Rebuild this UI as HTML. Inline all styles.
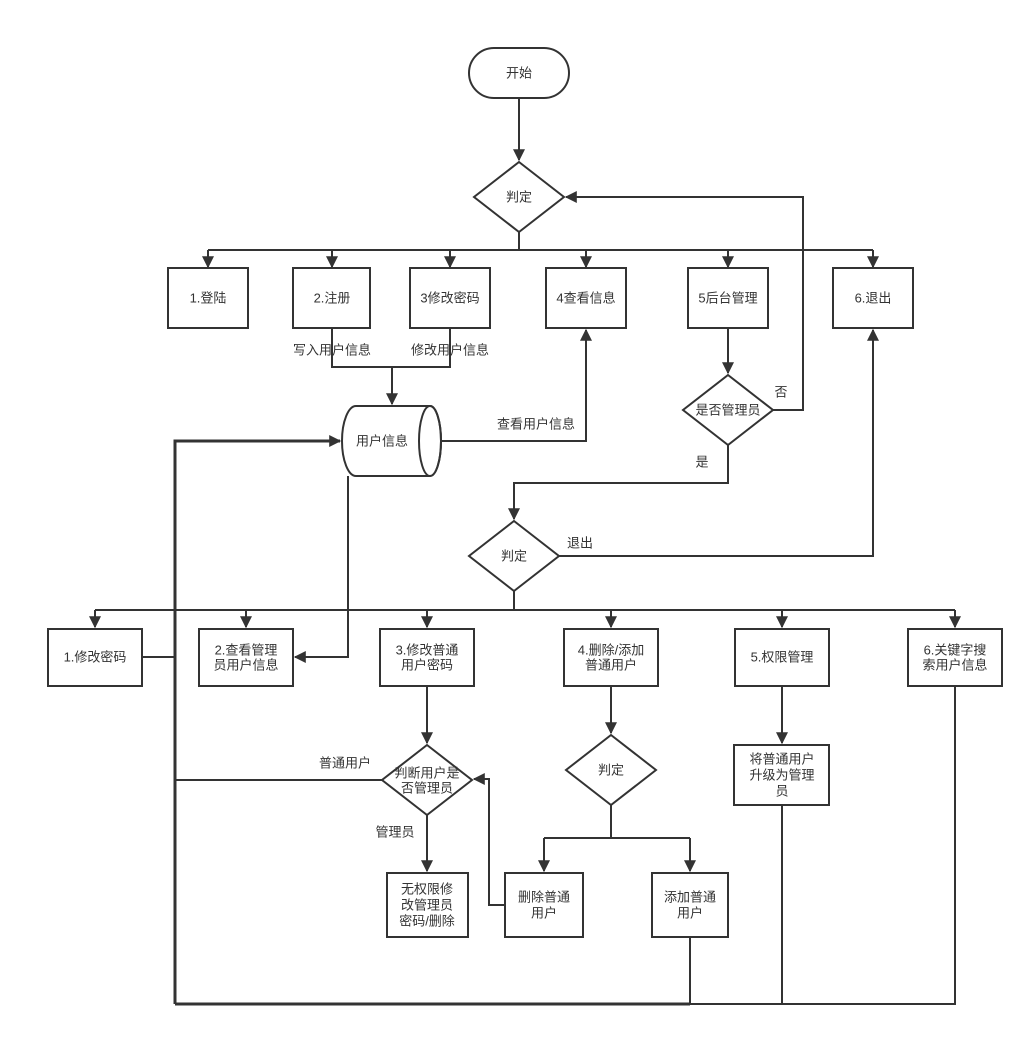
<!DOCTYPE html>
<html><head><meta charset="utf-8"><style>
html,body{margin:0;padding:0;background:#fff;}
svg{display:block}
text{font-family:"Liberation Sans","Noto Sans CJK SC",sans-serif;font-size:13px;fill:#333;text-anchor:middle;dominant-baseline:central}
</style></head><body>
<svg width="1034" height="1037" viewBox="0 0 1034 1037" xmlns="http://www.w3.org/2000/svg">
<defs><marker id="a" viewBox="0 0 10 10" refX="9" refY="5" markerWidth="6" markerHeight="6" markerUnits="userSpaceOnUse" orient="auto"><path d="M0,0 L10,5 L0,10 z" fill="#333"/></marker>
<marker id="b" viewBox="0 0 10 10" refX="9" refY="5" markerWidth="14" markerHeight="12" orient="auto" markerUnits="userSpaceOnUse"><path d="M0,0 L10,5 L0,10 z" fill="#333"/></marker></defs>
<g fill="none" stroke="#333" stroke-width="2">
<rect x="469" y="48" width="100" height="50" rx="25"/>
<polygon points="519,162 564,197 519,232 474,197" fill="#fff"/>
<rect x="168" y="268" width="80" height="60"/>
<rect x="293" y="268" width="77" height="60"/>
<rect x="410" y="268" width="80" height="60"/>
<rect x="546" y="268" width="80" height="60"/>
<rect x="688" y="268" width="80" height="60"/>
<rect x="833" y="268" width="80" height="60"/>
<path d="M356,406 L430,406 A11,35 0 0 1 430,476 L356,476 A14,35 0 0 1 356,406 Z"/>
<ellipse cx="430" cy="441" rx="11" ry="35"/>
<polygon points="728,375 773,410 728,445 683,410"/>
<polygon points="514,521 559,556 514,591 469,556"/>
<rect x="48" y="629" width="94" height="57"/>
<rect x="199" y="629" width="94" height="57"/>
<rect x="380" y="629" width="94" height="57"/>
<rect x="564" y="629" width="94" height="57"/>
<rect x="735" y="629" width="94" height="57"/>
<rect x="908" y="629" width="94" height="57"/>
<polygon points="427,745 472,780 427,815 382,780"/>
<polygon points="611,735 656,770 611,805 566,770"/>
<rect x="387" y="873" width="81" height="64"/>
<rect x="505" y="873" width="78" height="64"/>
<rect x="652" y="873" width="76" height="64"/>
<rect x="734" y="745" width="95" height="60"/>
</g>
<g fill="none" stroke="#333" stroke-width="2">
<path d="M519,98 V160" marker-end="url(#b)"/>
<path d="M519,232 V250"/>
<path d="M208,250 H873"/>
<path d="M208,250 V267" marker-end="url(#b)"/>
<path d="M332,250 V267" marker-end="url(#b)"/>
<path d="M450,250 V267" marker-end="url(#b)"/>
<path d="M586,250 V267" marker-end="url(#b)"/>
<path d="M728,250 V267" marker-end="url(#b)"/>
<path d="M873,250 V267" marker-end="url(#b)"/>
<path d="M332,328 V367 H450 V328"/>
<path d="M392,367 V404" marker-end="url(#b)"/>
<path d="M442,441 H586 V330" marker-end="url(#b)"/>
<path d="M728,328 V373" marker-end="url(#b)"/>
<path d="M773,410 H803 V197 H566" marker-end="url(#b)"/>
<path d="M728,445 V483 H514 V519" marker-end="url(#b)"/>
<path d="M559,556 H873 V330" marker-end="url(#b)"/>
<path d="M514,591 V610"/>
<path d="M95,610 H955"/>
<path d="M95,610 V627" marker-end="url(#b)"/>
<path d="M246,610 V627" marker-end="url(#b)"/>
<path d="M427,610 V627" marker-end="url(#b)"/>
<path d="M611,610 V627" marker-end="url(#b)"/>
<path d="M782,610 V627" marker-end="url(#b)"/>
<path d="M955,610 V627" marker-end="url(#b)"/>
<path d="M348,476 V657 H295" marker-end="url(#b)"/>
<path d="M142,657 H175"/>
<path d="M175,1004 V441 H340" marker-end="url(#b)" stroke-width="3"/>
<path d="M175,1004 H955 V686" stroke-width="2"/>
<path d="M175,1004 H690" stroke-width="3"/>
<path d="M690,937 V1004"/>
<path d="M782,805 V1004"/>
<path d="M427,686 V743" marker-end="url(#b)"/>
<path d="M382,780 H175"/>
<path d="M427,815 V871" marker-end="url(#b)"/>
<path d="M611,686 V733" marker-end="url(#b)"/>
<path d="M611,805 V838 M544,838 H690"/>
<path d="M544,838 V871" marker-end="url(#b)"/>
<path d="M690,838 V871" marker-end="url(#b)"/>
<path d="M505,905 H489 V779 H474" marker-end="url(#b)"/>
<path d="M782,686 V743" marker-end="url(#b)"/>
</g>
<text x="519" y="73">开始</text>
<text x="519" y="197">判定</text>
<text x="208" y="298">1.登陆</text>
<text x="332" y="298">2.注册</text>
<text x="450" y="298">3修改密码</text>
<text x="586" y="298">4查看信息</text>
<text x="728" y="298">5后台管理</text>
<text x="873" y="298">6.退出</text>
<text x="332" y="350">写入用户信息</text>
<text x="450" y="350">修改用户信息</text>
<text x="382" y="441">用户信息</text>
<text x="536" y="424">查看用户信息</text>
<text x="728" y="410">是否管理员</text>
<text x="781" y="392">否</text>
<text x="702" y="462">是</text>
<text x="514" y="556">判定</text>
<text x="580" y="543">退出</text>
<text x="95" y="657">1.修改密码</text>
<text x="246" y="650">2.查看管理</text>
<text x="246" y="665">员用户信息</text>
<text x="427" y="650">3.修改普通</text>
<text x="427" y="665">用户密码</text>
<text x="611" y="650">4.删除/添加</text>
<text x="611" y="665">普通用户</text>
<text x="782" y="657">5.权限管理</text>
<text x="955" y="650">6.关键字搜</text>
<text x="955" y="665">索用户信息</text>
<text x="427" y="773">判断用户是</text>
<text x="427" y="788">否管理员</text>
<text x="345" y="763">普通用户</text>
<text x="395" y="832">管理员</text>
<text x="611" y="770">判定</text>
<text x="427" y="889">无权限修</text>
<text x="427" y="905">改管理员</text>
<text x="427" y="921">密码/删除</text>
<text x="544" y="897">删除普通</text>
<text x="544" y="913">用户</text>
<text x="690" y="897">添加普通</text>
<text x="690" y="913">用户</text>
<text x="782" y="759">将普通用户</text>
<text x="782" y="775">升级为管理</text>
<text x="782" y="791">员</text>
</svg>
</body></html>
